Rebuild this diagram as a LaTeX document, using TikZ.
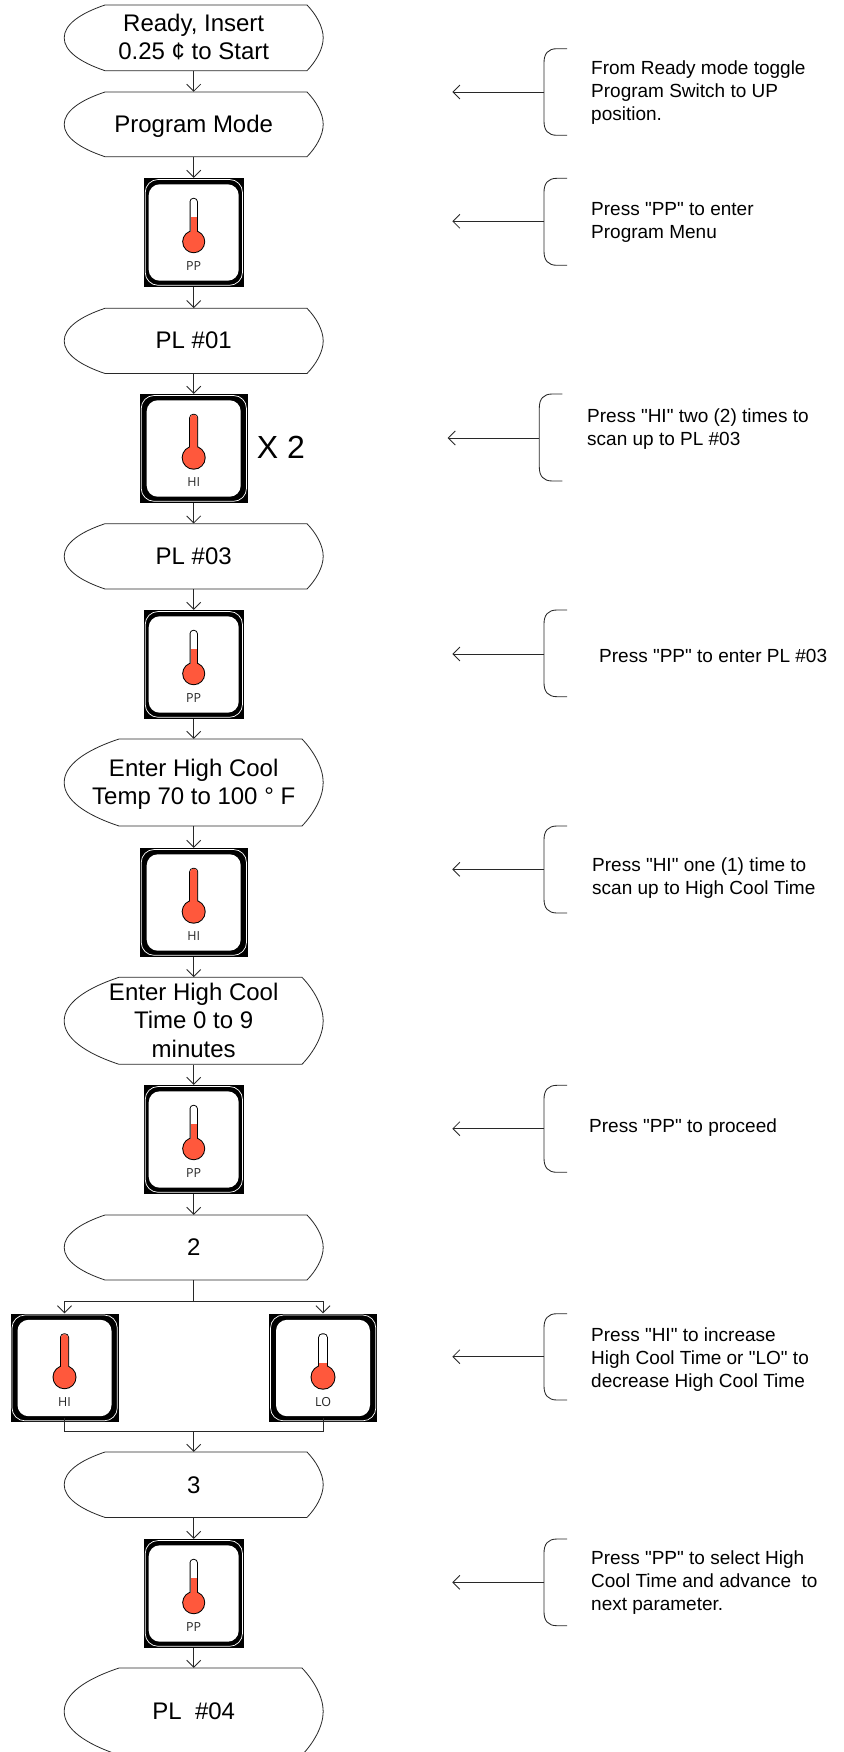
\documentclass[tikz,border=0pt]{standalone}
\usepackage{fontspec}
\setmainfont{Liberation Sans}[Ligatures=TeXOff]
\newfontfamily\iconfont{Open Sans}
\usetikzlibrary{arrows.meta}
\definecolor{thermored}{RGB}{255,88,60}
\definecolor{linegrey}{RGB}{40,40,40}
\tikzset{
  x=1pt,y=-1pt,
  flowline/.style={draw=linegrey,line width=0.85pt},
  flowarrow/.style={flowline,-{Straight Barb[length=7pt,width=14pt,line width=0.85pt]}},
  termbox/.style={inner sep=0pt,minimum width=259pt,font=\fontsize{24}{28.4}\selectfont},
  termline/.style={draw=linegrey,line width=0.8pt,fill=white},
  iconback/.style={fill=black,inner sep=0pt},
  iconlabel/.style={inner sep=0pt,font=\iconfont\fontsize{12.5}{13}\selectfont,text=black!85},
  notetext/.style={inner sep=0pt,anchor=base west,font=\fontsize{19}{23}\selectfont},
}
% name, top, bottom, x of flat start, x of flat end, baseline shift, text
\newcommand\terminator[7]{%
  \pgfmathsetmacro\tmid{(#2+#3)/2}%
  \pgfmathsetmacro\thh{#3-#2}%
  \draw[termline] (#4,#2) -- (#5,#2)
    .. controls ({#5+0.55*(323.2-#5)},{#2+0.14*\thh}) and (323.2,{\tmid-0.17*\thh}) .. (323.2,\tmid)
    .. controls (323.2,{\tmid+0.17*\thh}) and ({#5+0.55*(323.2-#5)},{#3-0.14*\thh}) .. (#5,#3)
    -- (#4,#3)
    .. controls ({#4-0.62*(#4-64.2)},{#3-0.13*\thh}) and (64.2,{\tmid+0.2*\thh}) .. (64.2,\tmid)
    .. controls (64.2,{\tmid-0.2*\thh}) and ({#4-0.62*(#4-64.2)},{#2+0.13*\thh}) .. (#4,#2) -- cycle;
  \node[termbox,minimum height=\thh pt] (#1) at (193.7,\tmid) {\raisebox{-#6pt}[0pt][0pt]{\begin{tabular}[t]{@{}c@{}}#7\end{tabular}}};
}
% name, cx, top, width, fill level offset (from top), tube half width, bulb radius, label
\newcommand\iconkey[8]{%
  \pgfmathsetmacro\icy{#3+54.3}%
  \node[iconback,minimum width=#4pt,minimum height=108.6pt] (#1) at (#2,\icy) {};
  \pgfmathsetmacro\ihw{#4/2}%
  \pgfmathsetmacro\iin{5+(#4-100)/4}%
  \draw[white,line width=0.7pt,rounded corners=13pt] ({#2-\ihw+1.5},{#3+1.5}) rectangle ({#2+\ihw-1.2},{#3+107.3});
  \fill[white,rounded corners=11pt] ({#2-\ihw+\iin},{#3+6.3}) rectangle ({#2+\ihw-\iin},{#3+102.7});
  \fill[black,rounded corners=4pt] ({#2-#6},{#3+19.8}) rectangle ({#2+#6},{#3+64});
  \fill[black] (#2,{#3+63.7}) circle[radius=#7];
  \fill[white,rounded corners=3pt] ({#2-#6+1},{#3+20.8}) rectangle ({#2+#6-1},{#3+64});
  \ifdim#5pt<25pt
    \fill[thermored,rounded corners=3pt] ({#2-#6+1},{#3+20.8}) rectangle ({#2+#6-1},{#3+64});
  \else
    \fill[thermored] ({#2-#6+1},{#3+#5}) rectangle ({#2+#6-1},{#3+64});
  \fi
  \fill[thermored] (#2,{#3+63.7}) circle[radius={#7-1}];
  \node[iconlabel] (#1-label) at (#2,{#3+88.3}) {#8};
}
% name, spine x, top, bottom, arrow middle y, tip x
\newcommand\notebrace[6]{%
  \draw[flowline] ({#2+23},#3) -- ({#2+13},#3)
    .. controls ({#2+4},#3) and (#2,{#3+5}) .. (#2,{#3+14})
    -- (#2,{#4-14})
    .. controls (#2,{#4-5}) and ({#2+4},#4) .. ({#2+13},#4) -- ({#2+23},#4);
  \coordinate (#1-spine) at (#2,#5);
  \coordinate (#1-tip) at (#6,#5);
  \draw[flowarrow] (#1-spine) -- (#1-tip);
}
\newcommand\notelines[1]{\begin{tabular}[t]{@{}l@{}}#1\end{tabular}}
\begin{document}
\begin{tikzpicture}
\useasboundingbox[fill=white] (0,0) rectangle (843,1752);

\terminator{t1}{5}{70.7}{105}{307}{-6.3}{Ready, Insert\\0.25 ¢ to Start}
\terminator{t2}{92}{156.7}{105}{307}{8}{Program Mode}
\iconkey{k1}{193.7}{178}{100}{39.3}{4.2}{11.5}{PP}
\terminator{t3}{308.3}{373.5}{105}{307}{8}{PL \#01}
\iconkey{k2}{193.7}{394}{108}{0}{4.5}{12}{HI}
\node[inner sep=0pt,anchor=base west,font=\fontsize{32}{36}\selectfont] (x2) at (256.7,458.3) {X 2};
\terminator{t4}{523.7}{589}{105}{307}{8}{PL \#03}
\iconkey{k3}{193.7}{610}{100}{39.3}{4.2}{11.5}{PP}
\terminator{t5}{739}{826}{119}{302}{-6.2}{Enter High Cool\\Temp 70 to 100 ° F}
\iconkey{k4}{193.7}{848}{108}{0}{4.5}{12}{HI}
\terminator{t6}{977.3}{1064.3}{119}{302}{-20.5}{Enter High Cool\\Time 0 to 9\\minutes}
\iconkey{k5}{193.7}{1085}{100}{39.3}{4.2}{11.5}{PP}
\terminator{t7}{1215}{1280}{105}{307}{8.3}{2}
\iconkey{k6}{64.5}{1313.5}{108}{0}{4.5}{12}{HI}
\iconkey{k7}{323}{1313.5}{108}{49}{4.8}{12.5}{LO}
\terminator{t8}{1452}{1517.4}{105}{307}{8.3}{3}
\iconkey{k8}{193.7}{1539}{100}{39.3}{4.2}{11.5}{PP}
\terminator{t9}{1668}{1755}{119}{302}{7.5}{PL\ \ \#04}

\draw[flowarrow] (t1.south) -- (t2.north);
\draw[flowarrow] (t2.south) -- (k1.north);
\draw[flowarrow] (k1.south) -- (t3.north);
\draw[flowarrow] (t3.south) -- (k2.north);
\draw[flowarrow] (k2.south) -- (t4.north);
\draw[flowarrow] (t4.south) -- (k3.north);
\draw[flowarrow] (k3.south) -- (t5.north);
\draw[flowarrow] (t5.south) -- (k4.north);
\draw[flowarrow] (k4.south) -- (t6.north);
\draw[flowarrow] (t6.south) -- (k5.north);
\draw[flowarrow] (k5.south) -- (t7.north);
\coordinate (split) at (193.7,1301);
\coordinate (merge) at (193.7,1431);
\draw[flowline] (t7.south) -- (split);
\draw[flowarrow] (split) -| (k6.north);
\draw[flowarrow] (split) -| (k7.north);
\draw[flowline] ([yshift=4pt]k6.south) |- (merge);
\draw[flowline] ([yshift=4pt]k7.south) |- (merge);
\draw[flowarrow] (merge) -- (t8.north);
\draw[flowarrow] (t8.south) -- (k8.north);
\draw[flowarrow] (k8.south) -- (t9.north);

\notebrace{b1}{544}{48.7}{135.3}{92}{452.3}
\node[notetext] (n1) at (591,75) {\notelines{From Ready mode toggle\\Program Switch to UP\\position.}};
\notebrace{b2}{544}{178.3}{265.3}{221.3}{452.3}
\node[notetext] (n2) at (591,216) {\notelines{Press "PP" to enter\\Program Menu}};
\notebrace{b3}{539.3}{394}{481}{438}{447.7}
\node[notetext] (n3) at (587,422.7) {\notelines{Press "HI" two (2) times to\\scan up to PL \#03}};
\notebrace{b4}{544}{610}{696.7}{654}{452.3}
\node[notetext] (n4) at (599,662) {\notelines{Press "PP" to enter PL \#03}};
\notebrace{b5}{544}{826}{913}{869.3}{452.3}
\node[notetext] (n5) at (592,871.7) {\notelines{Press "HI" one (1) time to\\scan up to High Cool Time}};
\notebrace{b6}{544}{1085.3}{1172.3}{1128.7}{452.3}
\node[notetext] (n6) at (589,1132) {\notelines{Press "PP" to proceed}};
\notebrace{b7}{544}{1313.7}{1400}{1356.7}{452.3}
\node[notetext] (n7) at (591,1341) {\notelines{Press "HI" to increase\\High Cool Time or "LO" to\\decrease High Cool Time}};
\notebrace{b8}{544}{1539}{1625.7}{1582.3}{452.3}
\node[notetext] (n8) at (591,1564) {\notelines{Press "PP" to select High\\Cool Time and advance\ \ to\\next parameter.}};
\end{tikzpicture}
\end{document}
